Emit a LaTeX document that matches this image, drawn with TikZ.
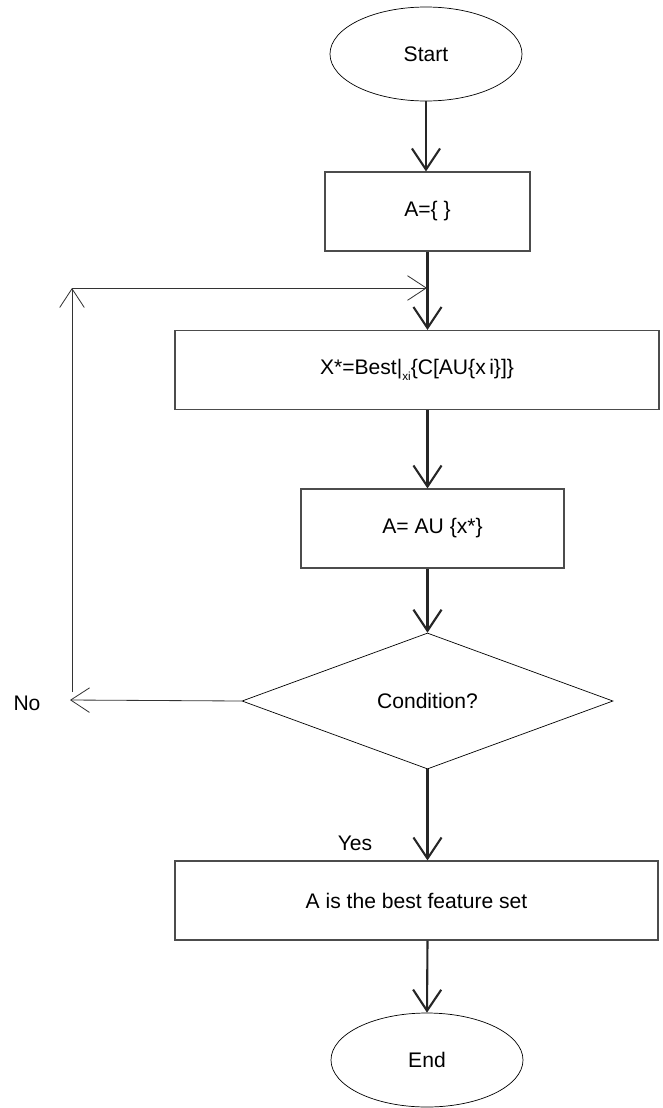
\documentclass[tikz,border=0pt]{standalone}
\usepackage{fontspec}
\setmainfont{Liberation Sans}
\usetikzlibrary{shapes.geometric,arrows.meta}
\tikzset{
  box/.style={draw=black!70, line width=0.9pt, rectangle, minimum height=2.37cm, inner sep=0pt},
  term/.style={draw, ellipse, line width=0.6pt, minimum width=5.76cm, minimum height=2.82cm, inner sep=0pt},
  test/.style={draw, diamond, line width=0.6pt, minimum width=11.13cm, minimum height=4.08cm, inner sep=0pt},
  flow/.style={line width=1.8pt, black!85, -{Straight Barb[length=18pt, width=24pt]}},
  back/.style={line width=0.7pt, black!80, -{Straight Barb[length=16pt, width=21pt]}},
}
\begin{document}
\begin{tikzpicture}[x=0.03cm, y=-0.03cm, font=\fontsize{18}{21}\selectfont]
      \useasboundingbox (0,0) rectangle (662,1108);
      \node [term] (start) at (426,54) {Start};
      \node [box, minimum width=6.15cm] (empty) at (427.5,211.5) {A=\{ \}};
      \node [box, minimum width=14.52cm] (best) at (417,370) {X*=Best|\raisebox{-5pt}{\fontsize{10}{10}\selectfont xi}\{C[AU\{x\,i\}]\}};
      \node [box, minimum width=7.89cm] (update) at (432.5,528.5) {A= AU \{x*\}};
      \node [test] (cond) at (427.5,701) {Condition?};
      \node [box, minimum width=14.49cm] (final) at (416.5,900.5) {A is the best feature set};
      \node [term] (stop) at (427,1060) {End};
      \node (yes) at (355,843) {Yes};
      \node (no) at (27,703) {No};
      \coordinate (noend) at (70,700);
      \coordinate (loopbot) at (72,692);
      \coordinate (looptop) at (72,288);
      \coordinate (loopin) at (427,288);
      \draw [flow] (start.south) -- (start.south |- empty.north);
      \draw [flow] (empty.south) -- (empty.south |- best.north);
      \draw [flow] (cond |- best.south) -- (cond |- update.north);
      \draw [flow] (cond |- update.south) -- (cond.north);
      \draw [flow] (cond.south) -- (cond |- final.north);
      \draw [flow] (cond |- final.south) -- (stop.north);
      \draw [back] (cond.west) -- (noend);
      \draw [back] (loopbot) -- (looptop);
      \draw [back] (looptop) -- (loopin);
    \end{tikzpicture}
\end{document}
